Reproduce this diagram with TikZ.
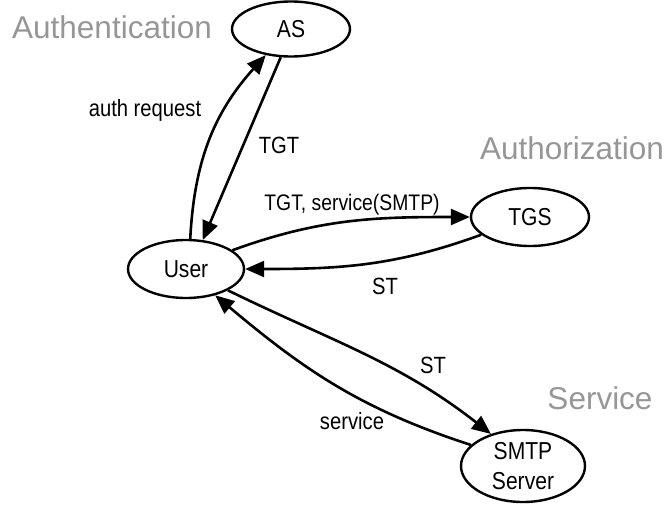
\documentclass[tikz,border=0pt]{standalone}
\usepackage{fontspec}
\setmainfont{Liberation Sans}
\newfontfamily\narrowfont[FakeStretch=0.86]{Liberation Sans}
\usetikzlibrary{shapes.geometric,arrows.meta}
\definecolor{grayline}{RGB}{150,150,150}
\begin{document}
\begin{tikzpicture}[x=1pt,y=-1pt,
  every node/.style={font=\narrowfont\fontsize{24.5}{30}\selectfont},
  party/.style={ellipse,draw,line width=2.4pt,inner sep=0pt},
  flow/.style={line width=2.6pt,-{Triangle[length=19pt,width=16pt]}},
  lbl/.style={font=\narrowfont\fontsize{23.5}{28}\selectfont,inner sep=0pt},
  zone/.style={text=grayline,font=\fontsize{31.5}{36}\selectfont,inner sep=0pt}]
\useasboundingbox (0,0) rectangle (666,506);
\node[party,minimum width=118pt,minimum height=55pt] (as) at (291,29) {AS};
\node[party,minimum width=116pt,minimum height=58pt] (user) at (186,269) {User};
\node[party,minimum width=118pt,minimum height=58pt] (tgs) at (530,217) {TGS};
\node[party,minimum width=124pt,minimum height=72pt,align=center] (smtp) at (523,466) {SMTP\\Server};
\node[zone] (authn) at (112,27) {Authentication};
\node[zone] (authz) at (572,148) {Authorization};
\node[zone] (serv) at (600,398) {Service};
\node[lbl] (l1) at (145,110) {auth request};
\node[lbl] (l2) at (279,145) {TGT};
\node[lbl,font=\narrowfont\fontsize{22.5}{28}\selectfont] (l3) at (352,205) {TGT, service(SMTP)};
\node[lbl] (l4) at (385,286) {ST};
\node[lbl] (l5) at (433,365) {ST};
\node[lbl] (l6) at (352,421) {service};
\draw[flow] (user.82) to[out=87,in=228] (as.226);
\draw[flow] (as.250) -- (user.60);
\draw[flow] (user.22) to[out=20,in=180] (tgs.west);
\draw[flow] (tgs.200) to[out=200,in=0] (user.east);
\draw[flow] (user.-27) to[out=-26,in=142] (smtp.135);
\draw[flow] (smtp.158) to[out=162,in=-40] (user.-42);
\end{tikzpicture}
\end{document}
